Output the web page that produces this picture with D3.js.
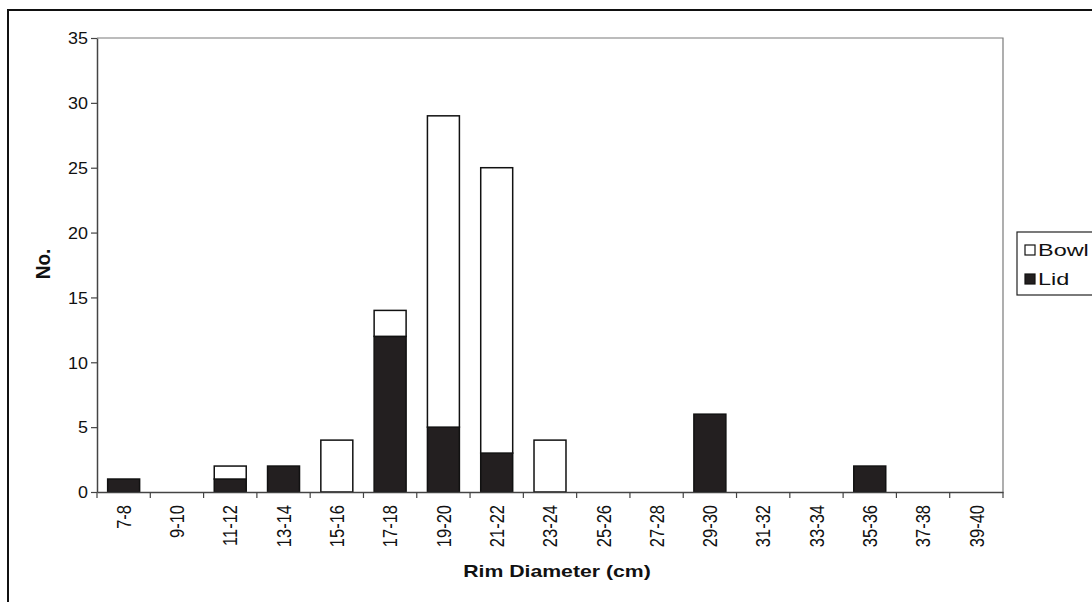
<!DOCTYPE html>
<html>
<head>
<meta charset="utf-8">
<script src="https://cdn.jsdelivr.net/npm/d3@7"></script>
<style>
  html, body { margin: 0; padding: 0; background: #fff; }
  svg { display: block; font-family: "Liberation Sans", Arial, sans-serif; }
</style>
</head>
<body>
<svg id="chart" width="1092" height="602"></svg>
<script>
const categories = ["7-8","9-10","11-12","13-14","15-16","17-18","19-20","21-22","23-24","25-26","27-28","29-30","31-32","33-34","35-36","37-38","39-40"];
const lidValues  = [1, 0, 1, 2, 0, 12, 5, 3, 0, 0, 0, 6, 0, 0, 2, 0, 0];
const bowlValues = [0, 0, 1, 0, 4, 2, 24, 22, 4, 0, 0, 0, 0, 0, 0, 0, 0];
const yTickValues = [0, 5, 10, 15, 20, 25, 30, 35];
const seriesNames = ["Bowl", "Lid"];

const svg = d3.select("#chart");
const W = 1092, H = 602;
const plot = { left: 97, right: 1003, top: 38, bottom: 492 };
const lidColor = "#231f20";

// outer frame
svg.append("rect").attr("x", 8).attr("y", 10).attr("width", 1200).attr("height", 700)
  .attr("fill", "none").attr("stroke", "#111").attr("stroke-width", 2);

const rows = categories.map((c, i) => ({ cat: c, Lid: lidValues[i], Bowl: bowlValues[i] }));

const x = d3.scaleBand().domain(categories).range([plot.left, plot.right])
  .paddingInner(0.4).paddingOuter(0.2);
const y = d3.scaleLinear().domain([0, 35]).range([plot.bottom, plot.top]);

// plot area top and right border
svg.append("path")
  .attr("d", `M${plot.left},${plot.top}H${plot.right}V${plot.bottom}`)
  .attr("fill", "none").attr("stroke", "#7a7a7a").attr("stroke-width", 1.2);

// bars
const stack = d3.stack().keys(["Lid", "Bowl"]);
const layers = stack(rows);
svg.append("g").selectAll("g").data(layers).join("g")
  .attr("fill", d => d.key === "Lid" ? lidColor : "#fff")
  .selectAll("rect")
  .data(d => d.filter(s => s[1] - s[0] > 0))
  .join("rect")
  .attr("x", d => x(d.data.cat))
  .attr("width", x.bandwidth())
  .attr("y", d => y(d[1]))
  .attr("height", d => y(d[0]) - y(d[1]))
  .attr("stroke", "#111").attr("stroke-width", 1.5);

// y axis
const yAxis = svg.append("g").attr("transform", `translate(${plot.left},0)`)
  .call(d3.axisLeft(y).tickValues(yTickValues).tickSize(6).tickSizeOuter(0).tickPadding(3));
yAxis.select(".domain").attr("stroke", "#444").attr("stroke-width", 1.5);
yAxis.selectAll(".tick line").attr("stroke", "#444").attr("stroke-width", 1.2);
yAxis.selectAll(".tick text")
  .attr("x", null).attr("dy", "0.36em")
  .attr("transform", "translate(-9,0) scale(1.12,1)")
  .attr("font-size", 16).attr("fill", "#111");

// x axis
const xAxis = svg.append("g").attr("transform", `translate(0,${plot.bottom})`)
  .call(d3.axisBottom(x).tickSize(0).tickSizeOuter(0));
xAxis.select(".domain").attr("stroke", "#444").attr("stroke-width", 1.5);
xAxis.selectAll(".tick text")
  .attr("y", 0).attr("x", 0).attr("dy", "0.35em")
  .attr("text-anchor", "end")
  .attr("transform", "translate(0,13) scale(1.25,1) rotate(-90)")
  .attr("font-size", 16.5).attr("fill", "#111");

// boundary ticks between categories
const step = x.step();
const boundaries = d3.range(categories.length + 1).map(i => plot.left + i * step);
xAxis.append("g").selectAll("line").data(boundaries).join("line")
  .attr("x1", d => d).attr("x2", d => d).attr("y1", 0).attr("y2", 6)
  .attr("stroke", "#444").attr("stroke-width", 1.2);

// axis titles
svg.append("text")
  .attr("transform", "translate(557,577) scale(1.25,1)")
  .attr("text-anchor", "middle").attr("font-weight", "bold").attr("font-size", 17)
  .attr("fill", "#111").text("Rim Diameter (cm)");
svg.append("text")
  .attr("transform", "translate(50,264) scale(1.1,1) rotate(-90)")
  .attr("text-anchor", "middle").attr("font-weight", "bold").attr("font-size", 19)
  .attr("fill", "#111").text("No.");

// legend
const legend = svg.append("g");
legend.append("rect").attr("x", 1017).attr("y", 232).attr("width", 100).attr("height", 63)
  .attr("fill", "#fff").attr("stroke", "#222").attr("stroke-width", 1.2);
const legY = { Bowl: 245, Lid: 274 };
seriesNames.forEach(name => {
  legend.append("rect").attr("x", 1025).attr("y", legY[name]).attr("width", 10).attr("height", 10)
    .attr("fill", name === "Lid" ? lidColor : "#fff").attr("stroke", "#111").attr("stroke-width", 1.2);
  legend.append("text")
    .attr("transform", `translate(1038,${legY[name] + 11}) scale(1.38,1)`)
    .attr("font-size", 17).attr("fill", "#111").text(name);
});
</script>
</body>
</html>
